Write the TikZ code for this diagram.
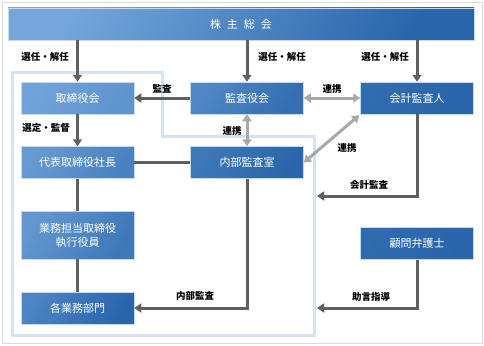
\documentclass[tikz,border=0pt]{standalone}
\usepackage{fontspec}
\setmainfont{Noto Sans CJK JP}
\usetikzlibrary{arrows.meta,calc}
\definecolor{orgBlueL}  {RGB}{112, 163, 217}
\definecolor{orgBlueD}  {RGB}{ 42, 101, 171}
\definecolor{orgFrame}  {RGB}{212, 227, 244}
\definecolor{orgInk}    {RGB}{ 96,  96,  96}
\definecolor{orgLink}   {RGB}{168, 168, 168}
\definecolor{orgBorder} {RGB}{218, 218, 218}

\begin{document}
\begin{tikzpicture}[x=1pt,y=-1pt,
    unitbox/.style 2 args={draw=white!75!orgBlueD,line width=0.5pt,
      left color=orgBlueL!#1!orgBlueD,right color=orgBlueL!#2!orgBlueD,
      shading angle=60,
      text=white,font=\fontsize{11}{14}\selectfont,
      minimum width=113pt,minimum height=32pt,inner sep=0pt,align=center},
    rel/.style={orgInk,line width=3pt,-{Triangle[length=7pt,width=9pt]}},
    tie/.style={orgInk,line width=3pt},
    link/.style={orgLink,line width=3pt,
      {Triangle[length=7pt,width=9pt]}-{Triangle[length=7pt,width=9pt]}},
    lbl/.style={font=\fontsize{9.5}{11}\bfseries,text=black,inner sep=0pt}]
        \useasboundingbox (0,0) rectangle (484,345);
        % Moldura externa
        \draw[orgBorder,line width=1pt] (2,3) rectangle (482,343);
        % Limite da empresa
        \draw[orgFrame,line width=3pt]
          (12,72) -- (162,72) -- (162,136) -- (314,136) -- (314,335)
          -- (12,335) -- cycle;

        % Orgaos
        \node[unitbox={105}{0},minimum width=466pt] (gm) at (241,24)
          {株\hspace{6pt}主\hspace{6pt}総\hspace{6pt}会};
        \node[unitbox={100}{75}] (tb)   at (77.5,98)  {取締役会};
        \node[unitbox={55}{15}]  (ka)   at (247,98)   {監査役会};
        \node[unitbox={10}{0}]   (kk)   at (417,98)   {会計監査人};
        \node[unitbox={85}{45}]  (ceo)  at (77.5,162.5) {代表取締役社長};
        \node[unitbox={30}{0}]   (ia)   at (247,162.5) {内部監査室};
        \node[unitbox={80}{30},minimum height=48pt] (ex) at (77.5,235)
          {業務担当取締役\\執行役員};
        \node[unitbox={50}{0}]   (dept) at (77.5,308)  {各業務部門};
        \node[unitbox={8}{0}]    (law)  at (417,243.5) {顧問弁護士};

        % Pontos na borda da empresa
        \coordinate (edgeA) at (317,196);
        \coordinate (edgeB) at (317,308);

        % Relacoes
        \foreach \dst in {tb,ka,kk}{
          \draw[rel] (gm.south -| \dst.north) -- (\dst.north);
        }
        \draw[rel] (ka.west) -- (tb.east);
        \draw[rel] (tb.south) -- (ceo.north);
        \draw[tie] (ceo.east) -- (ia.west);
        \draw[tie] (ceo.south) -- (ex.north);
        \draw[tie] (ex.south) -- (dept.north);
        \draw[rel] (ia.south) |- (dept.east);
        \draw[rel] (kk.south) |- (edgeA);
        \draw[rel] (law.south) |- (edgeB);
        \draw[link] (ka.east) -- (kk.west);
        \draw[link] (ka.south) -- (ia.north);
        \draw[link] ([shift={(-1,1)}]kk.south west) -- (ia.east);

        % Rotulos
        \node[lbl] (l1) at (45,57)   {選任・解任};
        \node[lbl] (l2) at (282,57)  {選任・解任};
        \node[lbl] (l3) at (385,57)  {選任・解任};
        \node[lbl] (l4) at (162,89)  {監査};
        \node[lbl] (l5) at (332,89)  {連携};
        \node[lbl] (l6) at (46,128)  {選定・監督};
        \node[lbl] (l7) at (232,131) {連携};
        \node[lbl] (l8) at (347,148) {連携};
        \node[lbl] (l9) at (369,185) {会計監査};
        \node[lbl] (l10) at (195,296) {内部監査};
        \node[lbl] (l11) at (371,297) {助言指導};
      \end{tikzpicture}
\end{document}
